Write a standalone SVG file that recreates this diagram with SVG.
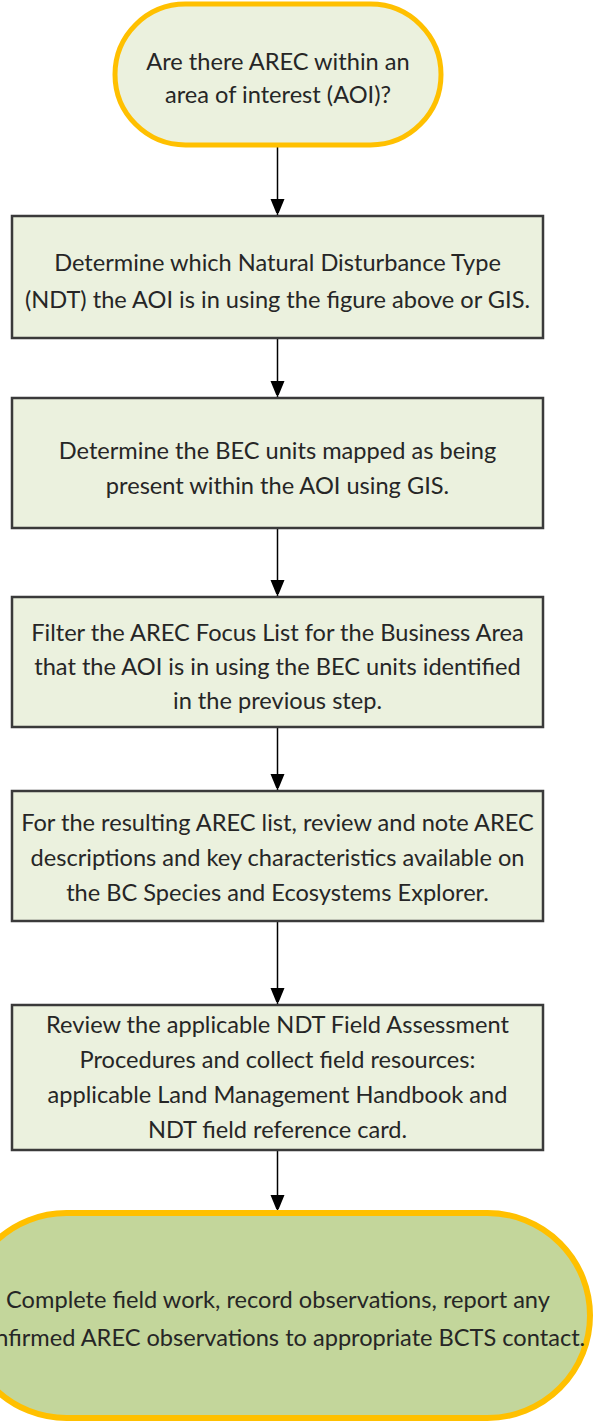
<svg xmlns="http://www.w3.org/2000/svg" width="600" height="1421" viewBox="0 0 600 1421">
<defs>
<style>
.box{fill:#EBF1DE;stroke:#3A3A3A;stroke-width:2.5}
.term{fill:#EBF1DE;stroke:#FFC000;stroke-width:5}
.term2{fill:#C3D69B;stroke:#FFC000;stroke-width:6}
.t{font-family:Lato,"Liberation Sans",sans-serif;font-size:23.6px;fill:#262626;text-anchor:middle}
.c{stroke:#000;stroke-width:1.5;fill:none}
</style>
<marker id="ah" markerWidth="14" markerHeight="17" refX="17" refY="7" orient="auto" markerUnits="userSpaceOnUse">
<path d="M0,0 L17,7 L0,14 Z" fill="#000"/>
</marker>
</defs>
<rect width="600" height="1421" fill="#fff"/>
<g id="connectors">
<line class="c" x1="277.5" y1="146" x2="277.5" y2="216" marker-end="url(#ah)"/>
<line class="c" x1="277.5" y1="338" x2="277.5" y2="398" marker-end="url(#ah)"/>
<line class="c" x1="277.5" y1="528" x2="277.5" y2="597" marker-end="url(#ah)"/>
<line class="c" x1="277.5" y1="727" x2="277.5" y2="791" marker-end="url(#ah)"/>
<line class="c" x1="277.5" y1="921" x2="277.5" y2="1005" marker-end="url(#ah)"/>
<line class="c" x1="277.5" y1="1150" x2="277.5" y2="1212" marker-end="url(#ah)"/>
</g>
<g id="start">
<rect class="term" x="115" y="4" width="326" height="141" rx="70.5"/>
<text class="t" x="278" y="70">Are there AREC within an</text>
<text class="t" x="278" y="103">area of interest (AOI)?</text>
</g>
<g id="step1">
<rect class="box" x="12" y="216" width="531" height="122"/>
<text class="t" x="277.5" y="271">Determine which Natural Disturbance Type</text>
<text class="t" x="277.5" y="308">(NDT) the AOI is in using the figure above or GIS.</text>
</g>
<g id="step2">
<rect class="box" x="12" y="398" width="531" height="130"/>
<text class="t" x="277.5" y="459">Determine the BEC units mapped as being</text>
<text class="t" x="277.5" y="494">present within the AOI using GIS.</text>
</g>
<g id="step3">
<rect class="box" x="12" y="597" width="531" height="130"/>
<text class="t" x="277.5" y="641">Filter the AREC Focus List for the Business Area</text>
<text class="t" x="277.5" y="675">that the AOI is in using the  BEC units identified</text>
<text class="t" x="277.5" y="709">in the previous step.</text>
</g>
<g id="step4">
<rect class="box" x="12" y="791" width="531" height="130"/>
<text class="t" x="277.5" y="831">For the resulting AREC list, review and note AREC</text>
<text class="t" x="277.5" y="866">descriptions and key characteristics available on</text>
<text class="t" x="277.5" y="901">the BC Species and Ecosystems Explorer.</text>
</g>
<g id="step5">
<rect class="box" x="12" y="1005" width="531" height="145"/>
<text class="t" x="277.5" y="1033">Review the applicable NDT Field Assessment</text>
<text class="t" x="277.5" y="1068">Procedures and collect field resources:</text>
<text class="t" x="277.5" y="1103">applicable Land Management Handbook and</text>
<text class="t" x="277.5" y="1138">NDT field reference card.</text>
</g>
<g id="end">
<rect class="term2" x="-36" y="1213" width="626" height="205" rx="102.5"/>
<text class="t" x="278" y="1308">Complete field work, record observations, report any</text>
<text class="t" x="278" y="1346">confirmed AREC observations to appropriate BCTS contact.</text>
</g>
</svg>
